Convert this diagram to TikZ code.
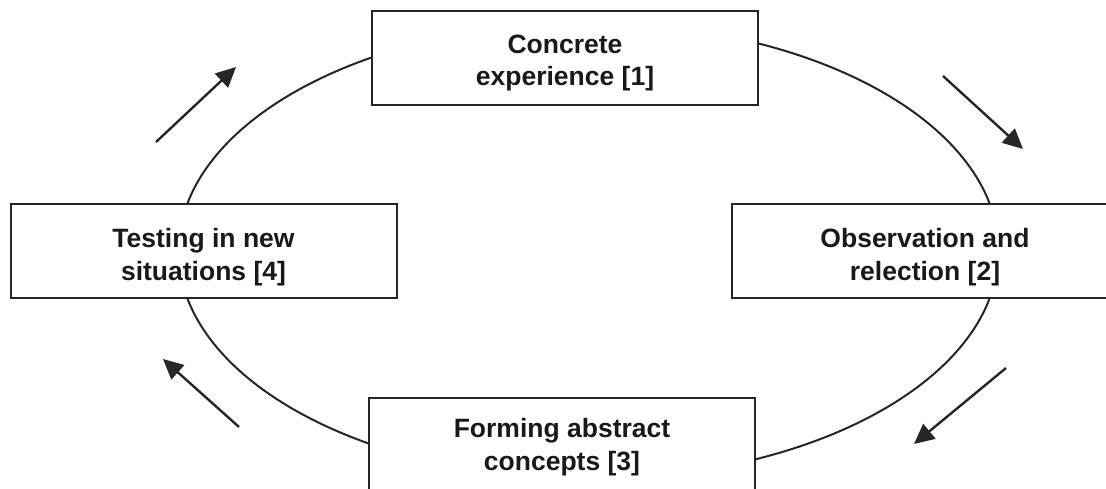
\documentclass[tikz,border=0pt]{standalone}
\usepackage{fontspec}
\setmainfont{Liberation Sans}
\usetikzlibrary{arrows.meta}
\tikzset{
  stagebox/.style={draw=black!85, line width=2pt, fill=white, rectangle,
    minimum width=386pt, minimum height=94pt, inner sep=0pt},
  stagetext/.style={align=center, inner sep=0pt,
    font=\fontsize{26.5pt}{32.5pt}\selectfont\bfseries, text=black!90},
  cycleline/.style={draw=black!85, line width=2pt},
  flowarrow/.style={draw=black!85, line width=2.4pt,
    -{Triangle[length=20pt,width=19pt]}}
}
\begin{document}
\begin{tikzpicture}[x=1pt,y=-1pt]
\useasboundingbox (0,0) rectangle (1106,489);
\clip (0,0) rectangle (1106,489);
\fill[white] (0,0) rectangle (1106,489);
\draw[cycleline] (588.5,251) ellipse [x radius=410, y radius=228];
\node[stagebox] (ce) at (565,58) {};
\node[stagebox] (or) at (925,251) {};
\node[stagebox] (fa) at (562,445) {};
\node[stagebox] (tn) at (203.5,251) {};
\node[stagetext] (cet) at ([yshift=-5pt]ce.center) {Concrete\\experience [1]};
\node[stagetext] (ort) at ([yshift=-6pt]or.center) {Observation and\\relection [2]};
\node[stagetext] (fat) at ([yshift=-2pt]fa.center) {Forming abstract\\concepts [3]};
\node[stagetext] (tnt) at ([yshift=-6pt]tn.center) {Testing in new\\situations [4]};
\coordinate (a1s) at (156,142); \coordinate (a1e) at (236,67);
\coordinate (a2s) at (943,76);  \coordinate (a2e) at (1023,149);
\coordinate (a3s) at (1006,368); \coordinate (a3e) at (914,444);
\coordinate (a4s) at (239,427); \coordinate (a4e) at (163,359);
\draw[flowarrow] (a1s) -- (a1e);
\draw[flowarrow] (a2s) -- (a2e);
\draw[flowarrow] (a3s) -- (a3e);
\draw[flowarrow] (a4s) -- (a4e);
\end{tikzpicture}
\end{document}
